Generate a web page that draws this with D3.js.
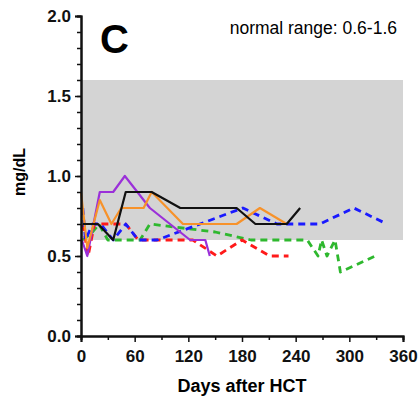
<!DOCTYPE html>
<html>
<head>
<meta charset="utf-8">
<script src="https://cdn.jsdelivr.net/npm/d3@7"></script>
<style>
  body { margin: 0; background: #fff; }
  text { font-family: "Liberation Sans", Arial, sans-serif; }
</style>
</head>
<body>
<svg id="svg-area"></svg>
<script>
/* data */
let blackDays = [2, 6, 19, 36, 50, 79, 111, 174, 195, 230, 245];
let blackVals = [0.7, 0.7, 0.7, 0.6, 0.9, 0.9, 0.8, 0.8, 0.7, 0.7, 0.8];

let orangeDays = [0, 7, 21, 34, 45, 70, 79, 114, 174, 200, 230];
let orangeVals = [0.9, 0.55, 0.85, 0.7, 0.8, 0.8, 0.9, 0.7, 0.7, 0.8, 0.7];

let purpleDays = [1, 7, 21, 36, 49, 77, 122, 139, 144];
let purpleVals = [0.6, 0.5, 0.9, 0.9, 1.0, 0.8, 0.6, 0.6, 0.5];

let blueDays = [2, 5, 13, 22, 36, 50, 64, 85, 181, 219, 267, 305, 342];
let blueVals = [0.8, 0.6, 0.7, 0.7, 0.6, 0.7, 0.6, 0.6, 0.8, 0.7, 0.7, 0.8, 0.7];

let redDays = [2, 8, 15, 35, 50, 64, 125, 152, 180, 211, 232];
let redVals = [0.7, 0.5, 0.7, 0.7, 0.7, 0.6, 0.6, 0.5, 0.6, 0.5, 0.5];

let greenDays = [2, 13, 20, 30, 66, 77, 150, 190, 253, 265, 269, 275, 284, 290, 329];
let greenVals = [0.6, 0.65, 0.7, 0.6, 0.6, 0.7, 0.65, 0.6, 0.6, 0.5, 0.6, 0.5, 0.6, 0.4, 0.5];

let normalRange = [0.6, 1.6];
let xTicks = [0, 60, 120, 180, 240, 300, 360];
let yTicks = [0, 0.5, 1.0, 1.5, 2.0];

let width = 419;
let height = 400;
let margin = { left: 81, right: 16, top: 16, bottom: 64 };

let svg = d3.select("#svg-area")
  .attr("width", width)
  .attr("height", height);

let xScale = d3.scaleLinear()
  .domain([0, 360])
  .range([margin.left, width - margin.right]);
let yScale = d3.scaleLinear()
  .domain([0, 2])
  .range([height - margin.bottom, margin.top]);

/* normal range band */
svg.append("rect")
  .attr("x", xScale(0))
  .attr("y", yScale(normalRange[1]))
  .attr("width", xScale(360) - xScale(0))
  .attr("height", yScale(normalRange[0]) - yScale(normalRange[1]))
  .attr("fill", "#d4d4d4");

/* series */
let series = [
  { days: greenDays, vals: greenVals, color: "#2eb82e", dash: "7,5", w: 2.8 },
  { days: redDays, vals: redVals, color: "#ff1a1a", dash: "7,5", w: 2.8 },
  { days: blueDays, vals: blueVals, color: "#1a1aff", dash: "7,5", w: 2.8 },
  { days: purpleDays, vals: purpleVals, color: "#9b30d9", dash: null, w: 2.2 },
  { days: orangeDays, vals: orangeVals, color: "#f7922a", dash: null, w: 2.2 },
  { days: blackDays, vals: blackVals, color: "#111", dash: null, w: 2.2 },
];

let line = d3.line()
  .x(d => xScale(d[0]))
  .y(d => yScale(d[1]));

series.forEach(s => {
  svg.append("path")
    .datum(s.days.map((d, i) => [d, s.vals[i]]))
    .attr("d", line)
    .attr("fill", "none")
    .attr("stroke", s.color)
    .attr("stroke-width", s.w)
    .attr("stroke-dasharray", s.dash)
    .attr("stroke-linejoin", "round");
});

/* x axis: minor ticks then labelled ones */
let xAxis = svg.append("g")
  .attr("transform", "translate(0," + yScale(0) + ")");
xAxis.call(d3.axisBottom(xScale).tickValues(d3.range(30, 360, 60)).tickSize(4).tickFormat(""));
xAxis.call(g => g.append("g").call(d3.axisBottom(xScale).tickValues(xTicks).tickSize(6).tickFormat(d3.format("d"))));

/* y axis */
let yAxis = svg.append("g")
  .attr("transform", "translate(" + xScale(0) + ",0)");
yAxis.call(d3.axisLeft(yScale).tickValues(d3.range(0, 2.01, 0.1)).tickSize(4).tickFormat(""));
yAxis.call(g => g.append("g").call(d3.axisLeft(yScale).tickValues(yTicks).tickSize(6).tickFormat(d3.format(".1f"))));

svg.selectAll(".domain").attr("stroke", "#111").attr("stroke-width", 2);
svg.selectAll(".tick line").attr("stroke", "#111").attr("stroke-width", 1.5);
svg.selectAll(".tick text")
  .attr("font-family", "Liberation Sans, Arial, sans-serif")
  .attr("font-size", 17)
  .attr("font-weight", "bold")
  .attr("fill", "#111");
xAxis.selectAll(".tick text").attr("dy", "1.0em");
yAxis.selectAll(".tick text").attr("dx", "-1px");

/* texts */
svg.append("text")
  .attr("x", (xScale(0) + xScale(360)) / 2)
  .attr("y", 392)
  .attr("text-anchor", "middle")
  .attr("font-size", 18)
  .attr("font-weight", "bold")
  .text("Days after HCT");

svg.append("text")
  .attr("transform", "translate(25,172) rotate(-90)")
  .attr("text-anchor", "middle")
  .attr("font-size", 16)
  .attr("font-weight", "bold")
  .text("mg/dL");

svg.append("text")
  .attr("x", 100)
  .attr("y", 53)
  .attr("font-size", 40)
  .attr("font-weight", "bold")
  .text("C");

svg.append("text")
  .attr("x", 397)
  .attr("y", 34)
  .attr("text-anchor", "end")
  .attr("font-size", 17.5)
  .text("normal range: 0.6-1.6");
</script>
</body>
</html>
